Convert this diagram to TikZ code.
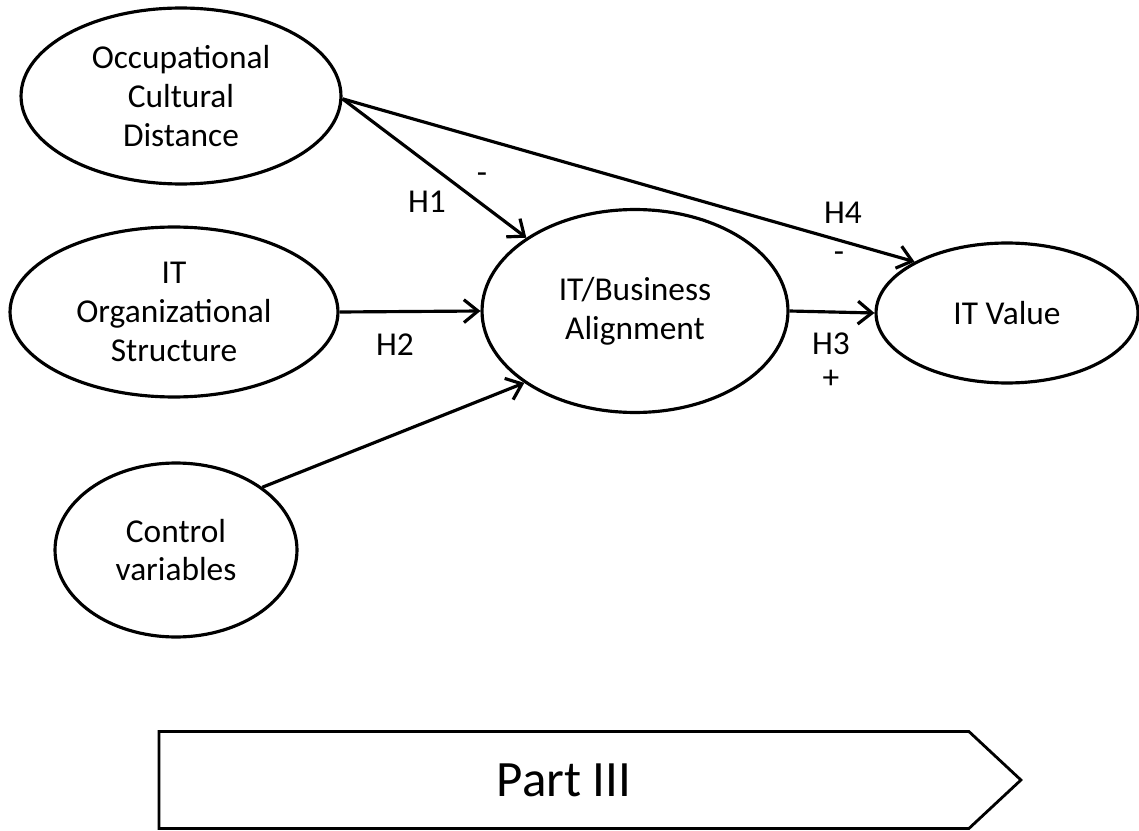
\documentclass[tikz,border=0pt]{standalone}
\usepackage{fontspec}
\setmainfont{Carlito}
\usetikzlibrary{arrows.meta, shapes.geometric, shapes.symbols}

\begin{document}
\begin{tikzpicture}[x=0.02cm, y=-0.02cm, >={Straight Barb[length=8pt, width=13pt]},
    construct/.style={ellipse, draw, line width=1.8pt, inner sep=0pt, align=center, font=\fontsize{19}{22}\selectfont},
    link/.style={line width=1.8pt, ->},
    lbl/.style={font=\fontsize{19}{22}\selectfont, inner sep=0pt}]
  \useasboundingbox (0,0) rectangle (1139,831);
  \node[construct, minimum width=6.4cm, minimum height=3.52cm] (OCD) at (181,96) {Occupational\\Cultural\\Distance};
  \node[construct, minimum width=6.56cm, minimum height=3.4cm] (ITS) at (174,312) {IT\\Organizational\\Structure};
  \node[construct, minimum width=4.84cm, minimum height=3.48cm] (CV) at (176,550) {Control\\variables};
  \node[construct, minimum width=6.12cm, minimum height=4.06cm] (ITBA) at (635,311) {IT/Business\\Alignment};
  \node[construct, minimum width=5.24cm, minimum height=2.8cm] (ITV) at (1007,313) {IT Value};
  \node[signal, signal to=east, signal pointer angle=86, draw, line width=1.6pt,
        minimum width=17.24cm, minimum height=1.94cm, inner sep=0pt,
        font=\fontsize{29}{34}\selectfont] (part) at (564,780) {Part III};
  \draw[link] (OCD.-1) -- (ITBA.146);
  \draw[link] (OCD.-1) -- (ITV.151.5);
  \draw[link] (ITS.east) -- (ITBA.west);
  \draw[link] (CV.36) -- (ITBA.213);
  \draw[link] (ITBA.east) -- (ITV.west);
  \node[lbl] (h1) at (427,202) {H1};
  \node[lbl] (h1s) at (482,178) {-};
  \node[lbl] (h2) at (395,345) {H2};
  \node[lbl] (h3) at (831,344) {H3};
  \node[lbl] (h3s) at (831,379) {+};
  \node[lbl] (h4) at (843,213) {H4};
  \node[lbl] (h4s) at (839,257) {-};
\end{tikzpicture}
\end{document}
